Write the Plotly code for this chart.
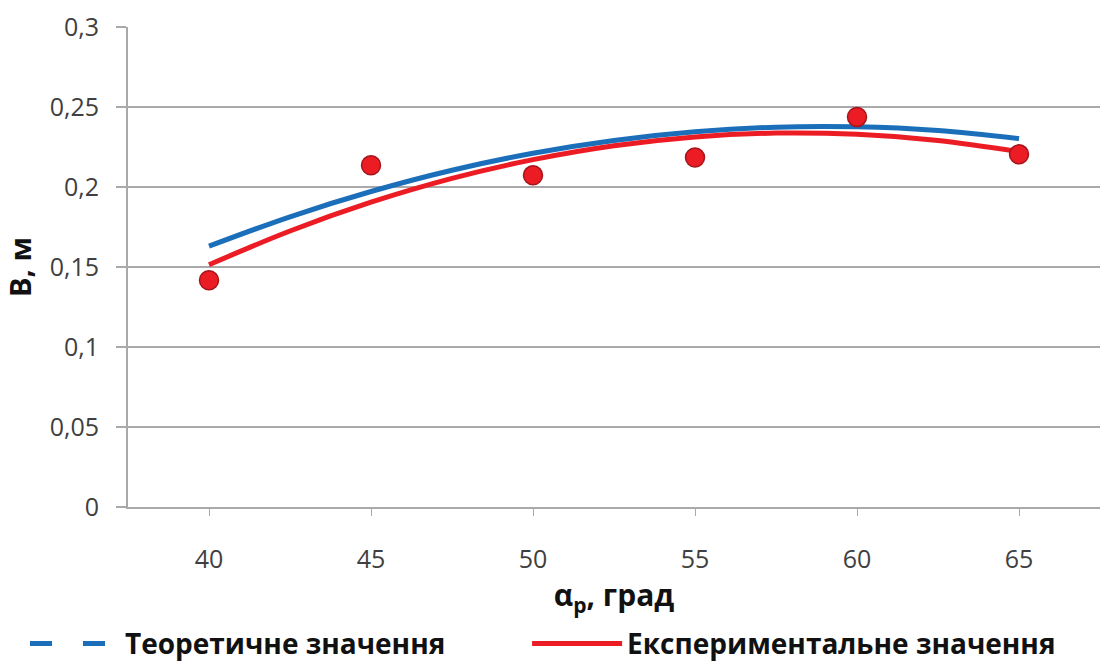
import plotly.graph_objects as go

# Measured points
angles = [40, 45, 50, 55, 60, 65]
angle_labels = ["40", "45", "50", "55", "60", "65"]
measured = [0.1417, 0.2136, 0.2073, 0.2184, 0.2438, 0.2204]

# Smooth trend curves, sampled every 2.5 degrees
curve_angles = [40, 42.5, 45, 47.5, 50, 52.5, 55, 57.5, 60, 62.5, 65]
theory_curve = [0.1630, 0.1814, 0.1972, 0.2105, 0.2211, 0.2291,
                0.2345, 0.2374, 0.2376, 0.2353, 0.2303]
experiment_curve = [0.1514, 0.1725, 0.1905, 0.2054, 0.2171, 0.2258,
                    0.2313, 0.2337, 0.2329, 0.2291, 0.2221]

y_ticks = [0, 0.05, 0.1, 0.15, 0.2, 0.25, 0.3]
y_tick_labels = ["0", "0,05", "0,1", "0,15", "0,2", "0,25", "0,3"]

BLUE = "#1b6fba"
RED = "#ec1c24"
GRID = "#a9a9a9"
TEXT_FONT = "Open Sans, Liberation Sans, Arial, sans-serif"

fig = go.Figure()

# legend entry for the theoretical curve (dashed symbol)
fig.add_trace(go.Scatter(
    x=[None], y=[None], mode="lines", name="Теоретичне значення",
    line=dict(color=BLUE, width=5, dash="22px,31px"),
    legend="legend",
))
fig.add_trace(go.Scatter(
    x=curve_angles, y=theory_curve, mode="lines", line_shape="spline",
    line=dict(color=BLUE, width=5), showlegend=False,
))
fig.add_trace(go.Scatter(
    x=curve_angles, y=experiment_curve, mode="lines", line_shape="spline",
    name="Експериментальне значення",
    line=dict(color=RED, width=5),
    legend="legend2",
))
fig.add_trace(go.Scatter(
    x=angles, y=measured, mode="markers", showlegend=False,
    marker=dict(color=RED, size=19, line=dict(color="#a5141c", width=1.5)),
))

legend_style = dict(
    orientation="h", xref="container", yref="container",
    y=0.029, xanchor="left", yanchor="middle",
    itemwidth=90,
    font=dict(family=TEXT_FONT, size=28, color="#111111", weight="bold"),
    bgcolor="rgba(0,0,0,0)",
)

fig.update_layout(
    width=1105, height=663,
    margin=dict(l=128, r=5, t=27, b=156, autoexpand=False),
    paper_bgcolor="white", plot_bgcolor="white",
    font=dict(family=TEXT_FONT, color="#404040"),
    showlegend=True,
    legend=dict(x=0.0226, **legend_style),
    legend2=dict(x=0.477, **legend_style),
)

fig.update_xaxes(
    range=[37.5, 67.5],
    tickvals=angles, ticktext=angle_labels,
    tickfont=dict(size=25, color="#404040"),
    showgrid=False, zeroline=False,
    showline=True, linecolor=GRID, linewidth=2,
    ticks="outside", ticklen=7, tickcolor=GRID, tickwidth=1,
    ticklabelstandoff=22,
    title=dict(text="α<sub>р</sub>, град", standoff=16,
               font=dict(size=30, color="#111111", weight="bold")),
)
fig.update_yaxes(
    range=[0, 0.3],
    tickvals=y_ticks, ticktext=y_tick_labels,
    tickfont=dict(size=25, color="#404040"),
    showgrid=True, gridcolor=GRID, gridwidth=2,
    zeroline=False,
    showline=True, linecolor=GRID, linewidth=2,
    ticks="outside", ticklen=10, tickcolor=GRID, tickwidth=2,
    ticklabelstandoff=12,
    title=dict(text="В, м", standoff=12,
               font=dict(size=29, color="#111111", weight="bold")),
)

fig.write_html("out.html")
